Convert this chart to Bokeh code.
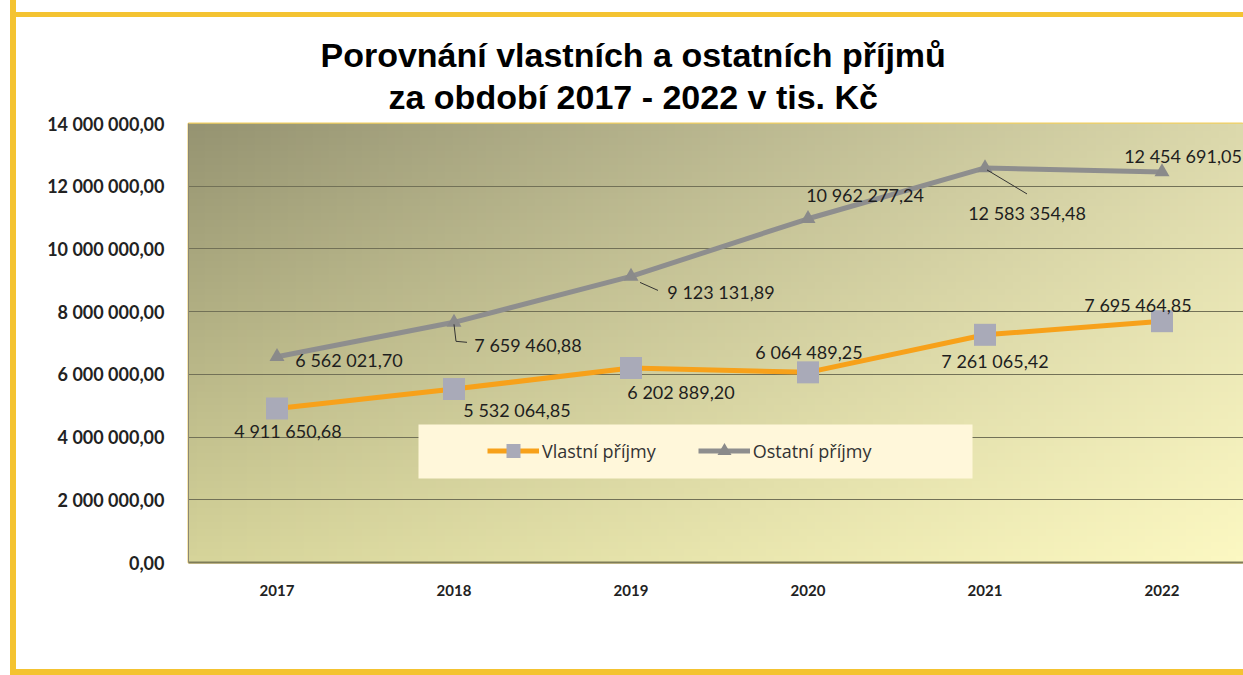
import numpy as np
from bokeh.plotting import figure
from bokeh.models import ColumnDataSource, FixedTicker, Legend, LegendItem, Title, BoxAnnotation
from bokeh.core.properties import value
from bokeh.embed import file_html
from bokeh.resources import INLINE

# ---------------- data ----------------
years = ["2017", "2018", "2019", "2020", "2021", "2022"]
vlastni = [4911650.68, 5532064.85, 6202889.20, 6064489.25, 7261065.42, 7695464.85]
ostatni = [6562021.70, 7659460.88, 9123131.89, 10962277.24, 12583354.48, 12454691.05]
y_ticks = [0, 2000000, 4000000, 6000000, 8000000, 10000000, 12000000, 14000000]
series_names = ["Vlastní příjmy", "Ostatní příjmy"]
title_lines = ["Porovnání vlastních a ostatních příjmů", "za období 2017 - 2022 v tis. Kč"]


def fmt(v):
    s = f"{v:,.2f}"
    return s.replace(",", " ").replace(".", ",")


# ---------------- layout constants ----------------
FRAME_W = 1055
FRAME_H = 439
LEFT = 188
TOP = 123
HEIGHT = 675
CAT_PX = 177.0
x_end = FRAME_W / CAT_PX
y_end = 14000000
PX_Y = FRAME_H / y_end
GOLD = "#F4C331"

xs = [i + 0.5 for i in range(len(years))]

p = figure(frame_width=FRAME_W, frame_height=FRAME_H,
           x_range=(0, x_end), y_range=(0, y_end),
           min_border_left=LEFT, min_border_right=0, min_border_top=TOP,
           min_border_bottom=HEIGHT - TOP - FRAME_H,
           output_backend="svg", toolbar_location=None)
p.styles = {"background": "#FFFFFF",
            "box-shadow": (f"inset 10px 0 0 0 #FFFFFF, inset 16px 0 0 0 {GOLD}, "
                           f"inset 0 12px 0 0 #FFFFFF, inset 0 17px 0 0 {GOLD}, "
                           f"inset 0 -6px 0 0 {GOLD}")}
p.border_fill_alpha = 0
p.background_fill_color = "#FFFFFF"
p.outline_line_color = "#F2D061"
p.outline_line_width = 2

# gradient background of the plot area
ny, nx = 64, 128
u = np.linspace(0, 1, nx)[None, :, None]
v = np.linspace(0, 1, ny)[:, None, None]
tl = np.array([150, 148, 114.0])
tr = np.array([220, 217, 172.0])
bl = np.array([214, 212, 154.0])
br = np.array([252, 248, 194.0])
col = bl * (1 - u) * (1 - v) + br * u * (1 - v) + tl * (1 - u) * v + tr * u * v
img = np.empty((ny, nx), dtype=np.uint32)
view = img.view(dtype=np.uint8).reshape((ny, nx, 4))
view[..., :3] = np.clip(col, 0, 255).astype(np.uint8)
view[..., 3] = 255
p.image_rgba(image=[img], x=0, y=0, dw=x_end, dh=y_end, level="image")

# grid & axes
p.xgrid.visible = False
p.ygrid.ticker = FixedTicker(ticks=y_ticks)
p.ygrid.grid_line_color = "#727157"
p.ygrid.grid_line_width = 1

p.yaxis.ticker = FixedTicker(ticks=y_ticks)
p.yaxis.major_label_overrides = {t: fmt(t) for t in y_ticks}
p.yaxis.axis_line_color = "#8C8874"
p.yaxis.major_tick_line_color = None
p.yaxis.minor_tick_line_color = None
p.yaxis.major_label_standoff = 18
p.yaxis.major_label_text_font = "Lato"
p.yaxis.major_label_text_font_style = "bold"
p.yaxis.major_label_text_font_size = "18px"
p.yaxis.major_label_text_color = "#222222"

p.xaxis.ticker = FixedTicker(ticks=xs)
p.xaxis.major_label_overrides = {x: y for x, y in zip(xs, years)}
p.xaxis.axis_line_color = "#7E7C58"
p.xaxis.axis_line_width = 2
p.xaxis.major_tick_line_color = None
p.xaxis.minor_tick_line_color = None
p.xaxis.major_label_standoff = 16
p.xaxis.major_label_text_font = "Lato"
p.xaxis.major_label_text_font_style = "bold"
p.xaxis.major_label_text_font_size = "15px"
p.xaxis.major_label_text_color = "#222222"

# series
r_ol = p.line(xs, ostatni, line_color="#8E8E8E", line_width=5)
r_om = p.scatter(xs, ostatni, marker="triangle", size=15, fill_color="#8A8A8A", line_color=None)
r_vl = p.line(xs, vlastni, line_color="#F7A11A", line_width=5)
r_vm = p.scatter(xs, vlastni, marker="square", size=22, fill_color="#A9AAB8", line_color=None)

# leader lines (pixel offsets from the point)
leaders = [(1, [(0, 2), (2, 19), (13, 20)]),
           (2, [(9, 6), (27, 14)]),
           (4, [(2, 2), (42, 26)])]
lx, ly = [], []
for i, pts in leaders:
    lx.append([xs[i] + dx / CAT_PX for dx, dy in pts])
    ly.append([ostatni[i] - dy / PX_Y for dx, dy in pts])
p.multi_line(lx, ly, line_color="#333333", line_width=1)

# data labels
v_dx = [11, 63, 50, 1, 10, -24]
v_dy = [23, 21, 24, -20, 26, -16]
o_dx = [72, 74, 90, 57, 42, 21]
o_dy = [3, 23, 16, -24, 45, -16]
lab = ColumnDataSource(dict(
    x=xs + xs,
    y=vlastni + ostatni,
    t=[fmt(a) for a in vlastni] + [fmt(a) for a in ostatni],
    dx=v_dx + o_dx,
    dy=v_dy + o_dy,
))
p.text(x="x", y="y", text="t", x_offset="dx", y_offset="dy", source=lab,
       text_font=value("Lato"), text_font_size="18px", text_color="#1E1E1E",
       text_align="center", text_baseline="middle")

# legend box + legend
box = BoxAnnotation(left=230, right=784, bottom=84, top=138,
                    left_units="screen", right_units="screen",
                    bottom_units="screen", top_units="screen",
                    fill_color="#FFF7DA", fill_alpha=1.0, line_color=None)
p.add_layout(box)
legend = Legend(items=[LegendItem(label=series_names[0], renderers=[r_vl, r_vm]),
                       LegendItem(label=series_names[1], renderers=[r_ol, r_om])],
                orientation="horizontal", location=(299, 94),
                background_fill_alpha=0, border_line_alpha=0,
                glyph_width=52, glyph_height=35, label_standoff=3, spacing=42,
                padding=0, margin=0,
                label_text_font="Open Sans", label_text_font_size="18px",
                label_text_color="#333333")
p.add_layout(legend)

# title (two lines; second line closest to the plot)
p.add_layout(Title(text=title_lines[1], align="left", offset=200,
                   text_font="Liberation Sans", text_font_style="bold",
                   text_font_size="34px", text_color="#000000", standoff=16), "above")
p.add_layout(Title(text=title_lines[0], align="left", offset=132,
                   text_font="Liberation Sans", text_font_style="bold",
                   text_font_size="34px", text_color="#000000", standoff=-13), "above")

open("out.html", "w").write(file_html(p, INLINE))
